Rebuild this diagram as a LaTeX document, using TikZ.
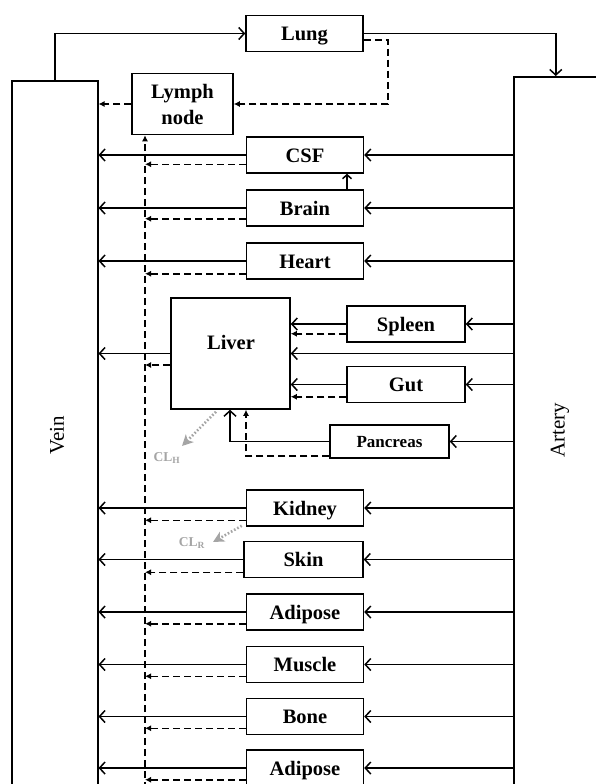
\documentclass[tikz,border=0pt]{standalone}
\usepackage{fontspec}
\setmainfont{Liberation Serif}
\usetikzlibrary{arrows.meta,calc}
\definecolor{clgray}{RGB}{165,165,165}
\begin{document}
\begin{tikzpicture}[x=1pt,y=-1pt,
  box/.style={draw, line width=1.5pt, inner sep=0pt, align=center,
    font=\fontsize{20.5}{26}\selectfont\bfseries},
  organ/.style={box, minimum width=117pt, minimum height=36pt, text height=18pt, text depth=4pt},
  flow/.style={line width=1.5pt, -{Straight Barb[length=5.5pt,width=12pt,line width=1.5pt]}},
  smallflow/.style={line width=1.5pt, -{Straight Barb[length=4pt,width=9pt,line width=1.5pt]}},
  lym/.style={line width=1.5pt, dash pattern=on 7pt off 4pt, -{Latex[length=6pt,width=6pt]}},
  cl/.style={clgray, line width=2.6pt, dash pattern=on 1.6pt off 2pt, -{Stealth[length=11pt,width=11pt,inset=3pt]}},
  cltext/.style={text=clgray, font=\fontsize{13.5}{15}\selectfont\bfseries},
  sidetext/.style={rotate=90, font=\fontsize{21}{24}\selectfont}
]
\useasboundingbox[fill=white] (0,0) rectangle (596,784);
\clip (0,0) rectangle (596,784);

% big compartments
\node[box, minimum width=86pt, minimum height=740pt, anchor=north west] (vein) at (11,80) {};
\node[box, minimum width=84pt, minimum height=740pt, anchor=north west] (artery) at (513,76) {};
\node[sidetext] (veinlabel) at (57,435) {Vein};
\node[sidetext] (arterylabel) at (560,430) {Artery};

% organs
\node[organ] (lung) at (304.5,33.5) {Lung};
\node[box, minimum width=101pt, minimum height=61pt] (lymph) at (182.5,104) {Lymph\\node};
\node[organ] (csf) at (305,155) {CSF};
\node[organ] (brain) at (305,208) {Brain};
\node[organ] (heart) at (305,261) {Heart};
\node[box, minimum width=119pt, minimum height=111pt] (liver) at (230.5,353.5) {};
\node[font=\fontsize{20.5}{26}\selectfont\bfseries] (livertext) at (231,342) {Liver};
\node[organ, minimum width=118pt] (spleen) at (406,324) {Spleen};
\node[organ, minimum width=118pt] (gut) at (406,384.5) {Gut};
\node[organ, minimum width=119pt, minimum height=33pt, text height=15pt, text depth=3pt, font=\fontsize{17}{20}\selectfont\bfseries] (pancreas) at (389.5,441.5) {Pancreas};
\node[organ] (kidney) at (305,508) {Kidney};
\node[organ, minimum width=119pt] (skin) at (303.5,559.5) {Skin};
\node[organ] (adiposeA) at (305,612) {Adipose};
\node[organ] (muscle) at (305,664.5) {Muscle};
\node[organ] (bone) at (305,716.5) {Bone};
\node[organ] (adiposeB) at (305,768) {Adipose};

% helper coordinates
\coordinate (col) at (145,800);
\coordinate (lk) at (388,0);
\coordinate (bc) at (347,0);
\coordinate (pj) at (230,0);
\coordinate (pk) at (246,0);
\coordinate (clh) at (182,446);
\coordinate (clr) at (213,542);

% lung circuit
\draw[flow] (vein.north) |- (lung.west);
\draw[flow] (lung.east) -| (artery.north);
\draw[lym] ([yshift=-6.5pt]lung.east) -| (lk |- lymph.east) -- (lymph.east);
\draw[lym] (lymph.west) -- (lymph.west -| vein.east);
\draw[lym] (col) -- (col |- lymph.south);

% standard organs
\foreach \o/\d in {csf/9.5, brain/8, heart/6, kidney/6.5, skin/6, adiposeA/7, muscle/7, bone/7, adiposeB/7}{
  \draw[flow] (\o.west) -- (\o.west -| vein.east);
  \draw[flow] (artery.west |- \o.east) -- (\o.east);
  \draw[lym] ([yshift=\d pt]\o.south west) -- ([yshift=\d pt]col |- \o.south west);
}
\draw[smallflow] (bc |- brain.north) -- (bc |- csf.south);

% liver circuit
\draw[flow] (artery.west |- liver.east) -- (liver.east);
\draw[flow] (liver.west) -- (liver.west -| vein.east);
\draw[lym] ([yshift=-11.5pt]liver.west) -- ([yshift=-11.5pt]col |- liver.west);
\foreach \o/\d in {spleen/9, gut/6.5}{
  \draw[flow] (artery.west |- \o.east) -- (\o.east);
  \draw[flow] (\o.west) -- (\o.west -| liver.east);
  \draw[lym] ([yshift=\d pt]\o.south west) -- ([yshift=\d pt]liver.east |- \o.south west);
}
\draw[flow] (artery.west |- pancreas.east) -- (pancreas.east);
\draw[flow] (pancreas.west) -| (pj |- liver.south);
\draw[lym] ([yshift=3pt]pancreas.south west) -| (pk |- liver.south);

% clearance
\draw[cl] ([xshift=-14.5pt,yshift=-2pt]liver.south) -- (clh);
\node[cltext] (clhlabel) at (167,458) {CL\textsubscript{H}};
\draw[cl] ([xshift=-4pt,yshift=1pt]kidney.south west) -- (clr);
\node[cltext] (clrlabel) at (192,543) {CL\textsubscript{R}};
\end{tikzpicture}
\end{document}
